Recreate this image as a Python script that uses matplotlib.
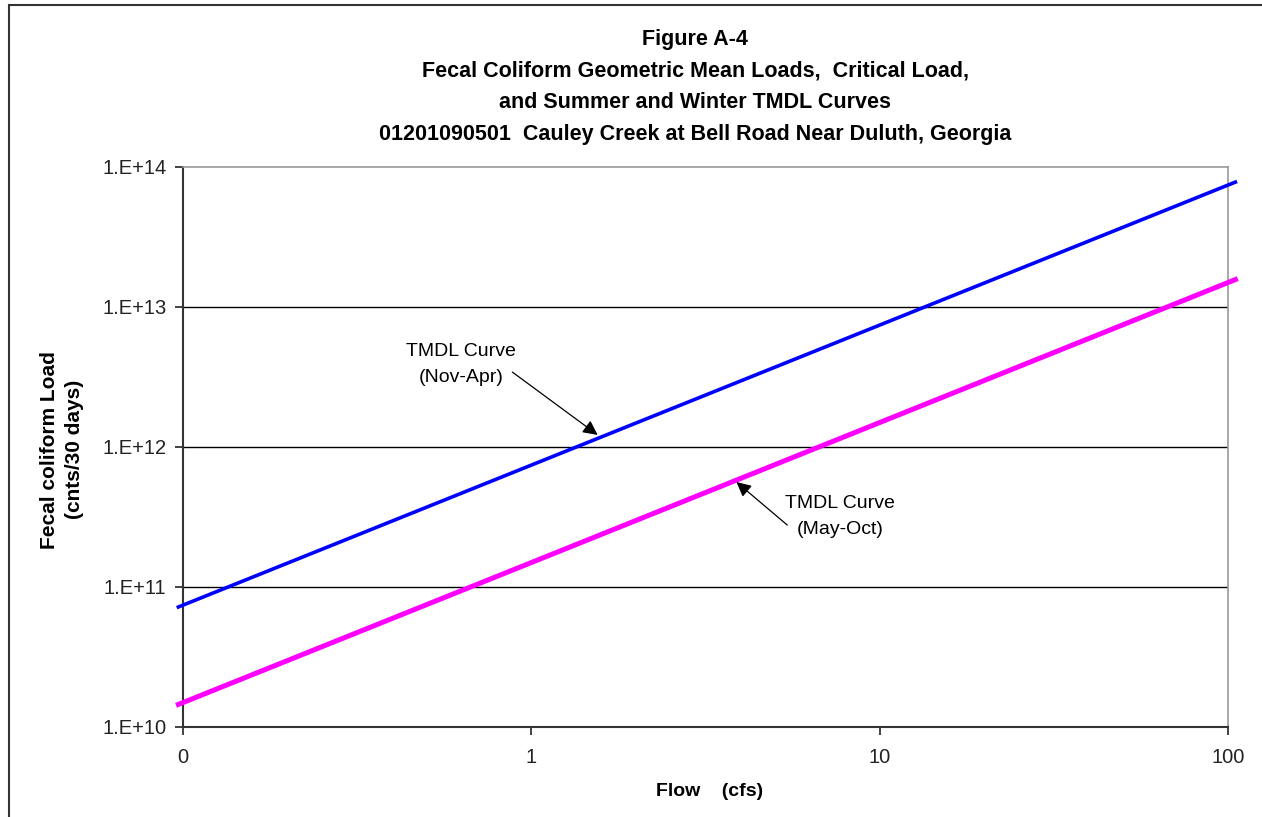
import matplotlib
matplotlib.use("Agg")
import matplotlib.pyplot as plt
from matplotlib.patches import Rectangle

plt.rcParams['font.family'] = ['Liberation Sans', 'DejaVu Sans']

# data (log-log straight lines)
flow = [0.097, 105]
winter_load = [7.2e10, 7.8e13]   # Nov-Apr
summer_load = [1.45e10, 1.57e13]  # May-Oct

x_ticks = [0.1, 1, 10, 100]
x_labels = ["0", "1", "10", "100"]
y_ticks = [1e10, 1e11, 1e12, 1e13, 1e14]
y_labels = ["1.E+10", "1.E+11", "1.E+12", "1.E+13", "1.E+14"]

title = ("Figure A-4\n"
         "Fecal Coliform Geometric Mean Loads,  Critical Load,\n"
         "and Summer and Winter TMDL Curves\n"
         "01201090501  Cauley Creek at Bell Road Near Duluth, Georgia")

fig = plt.figure(figsize=(12.62, 8.17), dpi=100)
ax = fig.add_axes([183/1262, 1-727/817, (1228-183)/1262, (727-167)/817])

ax.set_xscale("log")
ax.set_yscale("log")
ax.set_xlim(0.1, 100)
ax.set_ylim(1e10, 1e14)

for y in y_ticks[1:4]:
    ax.axhline(y, color="black", lw=1.0, zorder=1)

ax.plot(flow, winter_load, color="#0000ff", lw=2.6, clip_on=False, zorder=3)
ax.plot(flow, summer_load, color="#ff00ff", lw=3.6, clip_on=False, zorder=3)

ax.xaxis.set_major_locator(matplotlib.ticker.FixedLocator(x_ticks))
ax.xaxis.set_minor_locator(matplotlib.ticker.NullLocator())
ax.set_xticklabels(x_labels)
ax.yaxis.set_major_locator(matplotlib.ticker.FixedLocator(y_ticks))
ax.yaxis.set_minor_locator(matplotlib.ticker.NullLocator())
ax.set_yticklabels(y_labels)
ax.tick_params(axis="both", direction="out", length=6, width=1.2,
               labelsize=14.5, colors="#222222")
ax.tick_params(axis="y", pad=6)
ax.tick_params(axis="x", pad=9)

for s in ["left", "bottom"]:
    ax.spines[s].set_color("#333333")
    ax.spines[s].set_linewidth(1.5)
for s in ["top", "right"]:
    ax.spines[s].set_color("#999999")
    ax.spines[s].set_linewidth(1.2)

ax.set_xlabel("Flow    (cfs)", fontsize=14, fontweight="bold")
ax.xaxis.set_label_coords((710-183)/1045, -(792-727)/560)
ax.xaxis.label.set_va("center")
ax.set_ylabel("Fecal coliform Load\n(cnts/30 days)", fontsize=15,
              fontweight="bold", linespacing=1.45)
ax.yaxis.set_label_coords((62-183)/1045, 0.495)
ax.yaxis.label.set_va("center")

fig.text(695/1262, 1-87/817, title, ha="center", va="center", fontsize=15.5,
         fontweight="bold", linespacing=1.68)

# annotation labels and arrows
ax.text(0.63, 3.9e12, "TMDL Curve\n(Nov-Apr)", ha="center", va="center",
        fontsize=14, linespacing=1.69)
ax.annotate("", xy=(1.55, 1.22e12), xytext=(0.882, 3.43e12),
            arrowprops=dict(arrowstyle="-|>", color="black", lw=0.9,
                            mutation_scale=22, shrinkA=0, shrinkB=0))
ax.text(7.71, 3.21e11, "TMDL Curve\n(May-Oct)", ha="center", va="center",
        fontsize=14, linespacing=1.69)
ax.annotate("", xy=(3.88, 5.62e11), xytext=(5.43, 2.77e11),
            arrowprops=dict(arrowstyle="-|>", color="black", lw=0.9,
                            mutation_scale=22, shrinkA=0, shrinkB=0))

fig.patches.append(Rectangle((9/1262, -0.1), 1.2, 1-5/817+0.1,
                             transform=fig.transFigure, fill=False,
                             edgecolor="#333333", lw=1.5))

fig.savefig("out.png", dpi=100)
